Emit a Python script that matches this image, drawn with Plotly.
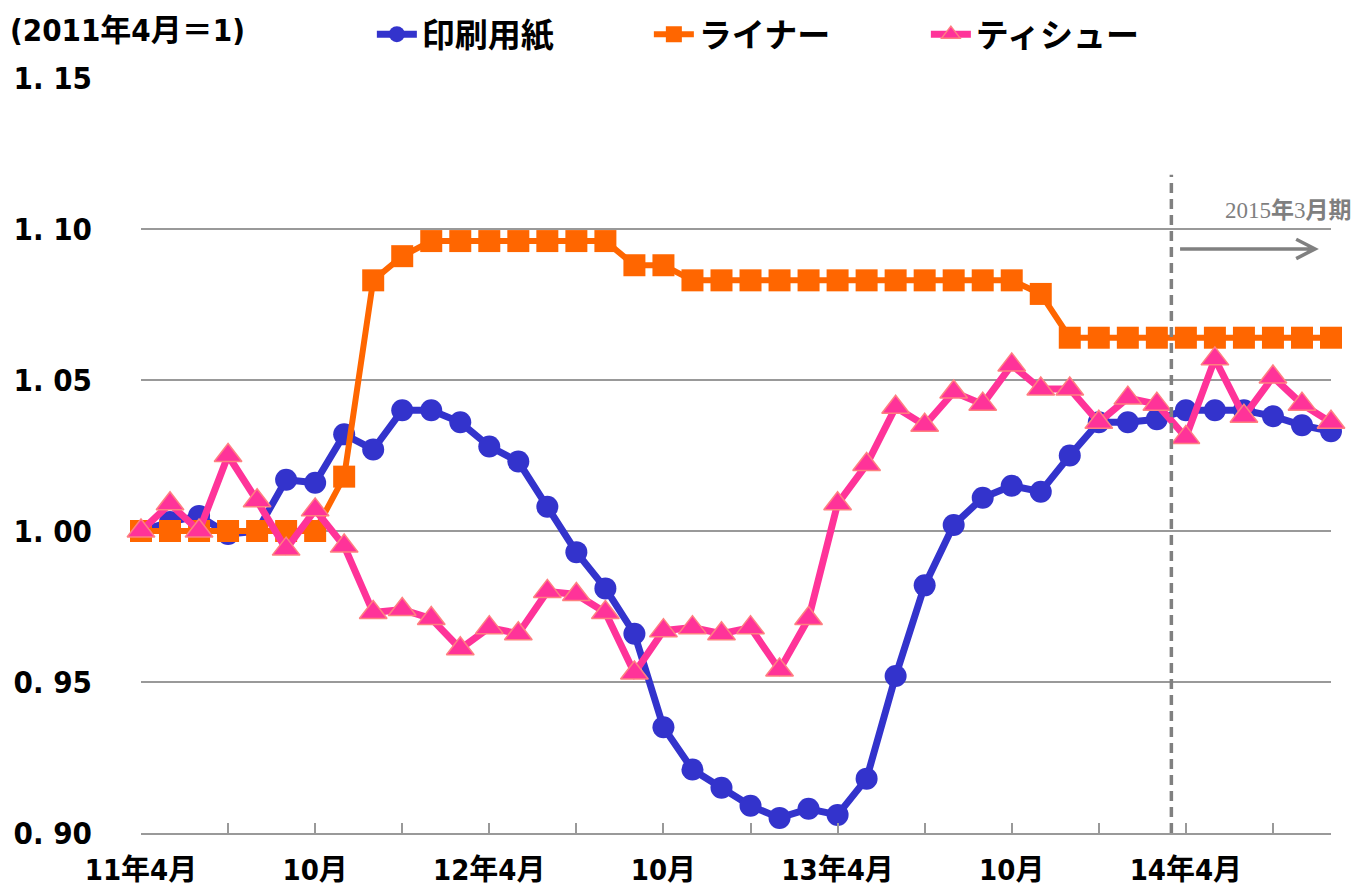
import plotly.graph_objects as go

# month index 0 = 2011年4月 ... 41 = 2014年9月
months = list(range(42))

paper = [1.000, 1.003, 1.005, 0.999, 1.000, 1.017, 1.016, 1.032, 1.027, 1.040,
         1.040, 1.036, 1.028, 1.023, 1.008, 0.993, 0.981, 0.966, 0.935, 0.921,
         0.915, 0.909, 0.905, 0.908, 0.906, 0.918, 0.952, 0.982, 1.002, 1.011,
         1.015, 1.013, 1.025, 1.036, 1.036, 1.037, 1.040, 1.040, 1.040, 1.038,
         1.035, 1.033]

liner = [1.000, 1.000, 1.000, 1.000, 1.000, 1.000, 1.000, 1.018, 1.083, 1.091,
         1.096, 1.096, 1.096, 1.096, 1.096, 1.096, 1.096, 1.088, 1.088, 1.083,
         1.083, 1.083, 1.083, 1.083, 1.083, 1.083, 1.083, 1.083, 1.083, 1.083,
         1.083, 1.0785, 1.064, 1.064, 1.064, 1.064, 1.064, 1.064, 1.064, 1.064,
         1.064, 1.064]

tissue = [1.000, 1.009, 1.000, 1.025, 1.010, 0.994, 1.007, 0.995, 0.973, 0.974,
          0.971, 0.961, 0.968, 0.966, 0.980, 0.979, 0.973, 0.953, 0.967, 0.968,
          0.966, 0.968, 0.954, 0.971, 1.009, 1.022, 1.041, 1.035, 1.046, 1.042,
          1.055, 1.047, 1.047, 1.036, 1.044, 1.042, 1.031, 1.057, 1.038, 1.051,
          1.042, 1.036]

series_names = ["印刷用紙", "ライナー", "ティシュー"]

xtick_vals = [0, 3, 6, 9, 12, 15, 18, 21, 24, 27, 30, 33, 36, 39]
xtick_text = ["11年4月", "", "10月", "", "12年4月", "", "10月", "",
              "13年4月", "", "10月", "", "14年4月", ""]

ytick_vals = [0.90, 0.95, 1.00, 1.05, 1.10, 1.15]
ytick_text = ["0. 90", "0. 95", "1. 00", "1. 05", "1. 10", "1. 15"]

divider_month = 35.5
forecast_label = "2015<b>年</b>3<b>月期</b>"
unit_label = "(2011年4月＝1)"

NARROW = "DejaVu Sans Condensed, Noto Sans CJK JP, sans-serif"
CJK = "Noto Sans CJK JP, sans-serif"

fig = go.Figure()
fig.add_trace(go.Scatter(
    x=months, y=paper, name=series_names[0], mode="lines+markers",
    line=dict(color="#3333CC", width=7),
    marker=dict(symbol="circle", size=22, color="#3333CC"),
    cliponaxis=False))
fig.add_trace(go.Scatter(
    x=months, y=liner, name=series_names[1], mode="lines+markers",
    line=dict(color="#FF6600", width=6),
    marker=dict(symbol="square", size=22, color="#FF6600"),
    cliponaxis=False))
fig.add_trace(go.Scatter(
    x=months, y=tissue, name=series_names[2], mode="lines+markers",
    line=dict(color="#FF3399", width=7),
    marker=dict(symbol="triangle-up", size=24, color="#FF3399",
                line=dict(color="#FF8080", width=1.5)),
    cliponaxis=False))

# vertical dashed divider
fig.add_shape(type="line", xref="x", yref="y",
              x0=divider_month, x1=divider_month, y0=0.90, y1=1.118,
              line=dict(color="#808080", width=3.5, dash="10px,6px"), layer="above")
# arrow
fig.add_shape(type="path", xref="x", yref="y",
              path="M 35.8,1.0934 L 40.45,1.0934 M 39.8,1.0966 L 40.45,1.0934 L 39.8,1.0902",
              line=dict(color="#808080", width=3.5))

fig.add_annotation(xref="paper", yref="y", x=1.019, y=1.106, xanchor="right",
                   yanchor="middle", text=forecast_label, showarrow=False,
                   font=dict(family="Liberation Serif, Noto Sans CJK JP, serif",
                             size=23, color="#7F7F7F"))
fig.add_annotation(xref="paper", yref="paper", x=-0.112, y=1.0636,
                   xanchor="left", yanchor="middle", text=unit_label,
                   showarrow=False,
                   font=dict(family=NARROW, size=31, color="#000000", weight="bold"))

# the page body adds an 8px offset, so the figure is 8px smaller and margins shifted
fig.update_layout(
    width=1351, height=885,
    margin=dict(l=133, r=28, t=70, b=60, autoexpand=False),
    plot_bgcolor="white", paper_bgcolor="white",
    showlegend=True,
    legend=dict(orientation="h", x=0.194, y=1.058, xanchor="left",
                yanchor="middle", xref="paper", yref="paper",
                font=dict(family=CJK, size=33, color="#000000", weight="bold"),
                entrywidth=222, entrywidthmode="pixels",
                bgcolor="rgba(0,0,0,0)", itemwidth=40),
    xaxis=dict(range=[0, 41], tickvals=xtick_vals, ticktext=xtick_text,
               ticks="inside", ticklen=10, tickwidth=1.5, tickcolor="#999999",
               showgrid=False, zeroline=False, automargin=False,
               showline=True, linecolor="#999999", linewidth=2,
               tickfont=dict(family=NARROW, size=29, color="#000000", weight="bold"),
               ticklabelstandoff=10),
    yaxis=dict(range=[0.90, 1.15], tickvals=ytick_vals, ticktext=ytick_text,
               ticks="", showgrid=True, gridcolor="#999999", gridwidth=1.5,
               zeroline=False, showline=False, automargin=False,
               tickfont=dict(family=NARROW, size=31, color="#000000", weight="bold"),
               ticklabelstandoff=48),
)

fig.write_html("out.html")
